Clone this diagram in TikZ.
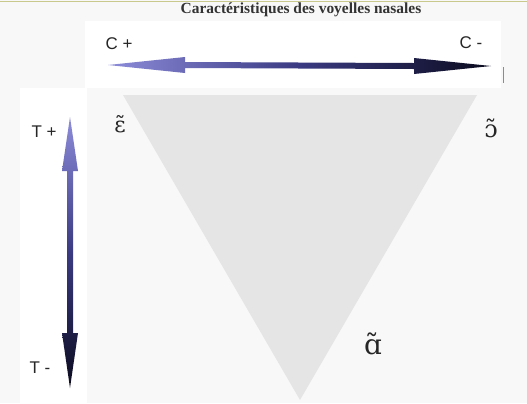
\documentclass[tikz,border=0pt]{standalone}
\usepackage{fontspec}
\setmainfont{Liberation Serif}
\newfontfamily\labelfont{Liberation Sans}
\newfontfamily\ipafont{DejaVu Serif}
\usetikzlibrary{calc}
\definecolor{PageGray}{HTML}{F8F8F8}
\definecolor{OliveLine}{HTML}{C9C98E}
\definecolor{TriGray}{HTML}{E5E5E5}
\definecolor{LightLav}{HTML}{8C8CDA}
\definecolor{MidNavy}{HTML}{3A3A82}
\definecolor{DarkNavy}{HTML}{0B0B1E}
\tikzset{
  title/.style={font=\fontsize{15.5}{17}\selectfont\bfseries, text=black!80, inner sep=0pt},
  axislabel/.style={font=\labelfont\fontsize{17}{19}\selectfont, text=black!85, inner sep=0pt},
  vowel/.style={font=\ipafont\fontsize{#1}{#1}\selectfont, text=black!85, inner sep=0pt},
  panel/.style={fill=white, draw=none}
}
\begin{document}
\begin{tikzpicture}[x=1bp, y=-1bp]
\useasboundingbox (0,0) rectangle (527,403);
\fill[PageGray] (0,0) rectangle (527,403);
\draw[OliveLine, line width=1.2bp] (0,1.5) -- (527,1.5);
% white panels
\fill[panel] (85,21) rectangle (501,88);
\fill[panel] (20,88) rectangle (87,403);
\draw[black!45, line width=0.8bp] (503,67) -- (503,83);
% triangle
\coordinate (triL) at (123,95);
\coordinate (triR) at (477,95);
\coordinate (triB) at (300,400);
\fill[TriGray] (triL) -- (triR) -- (triB) -- cycle;
% title
\node[title] (ttl) at (301,10) {Caractéristiques des voyelles nasales};
% horizontal axis
\node[axislabel] (cplus) at (119,44) {C +};
\node[axislabel] (cmoins) at (471,43) {C -};
\coordinate (hL) at (108,65);
\coordinate (hR) at (491,66);
\shade[left color=LightLav, right color=DarkNavy, middle color=MidNavy]
  (hL) -- ($(hL)+(77,-8)$) -- ($(hL)+(77,-3)$) -- ($(hR)+(-77,-3)$) -- ($(hR)+(-77,-8)$)
  -- (hR) -- ($(hR)+(-77,8)$) -- ($(hR)+(-77,3)$) -- ($(hL)+(77,3)$) -- ($(hL)+(77,8)$) -- cycle;
% vertical axis
\node[axislabel] (tplus) at (44,132) {T +};
\node[axislabel] (tmoins) at (40,368) {T -};
\coordinate (vT) at (70,117);
\coordinate (vB) at (70,388);
\shade[top color=LightLav, bottom color=DarkNavy, middle color=MidNavy]
  (vT) -- ($(vT)+(8,54)$) -- ($(vT)+(3,54)$) -- ($(vB)+(3,-55)$) -- ($(vB)+(8,-55)$)
  -- (vB) -- ($(vB)+(-8,-55)$) -- ($(vB)+(-3,-55)$) -- ($(vT)+(-3,54)$) -- ($(vT)+(-8,54)$) -- cycle;
% vowels
\node[vowel=22] (epsnas) at (120,124) {ɛ̃};
\node[vowel=24] (opennas) at (491,128) {ɔ̃};
\node[vowel=28] (anas) at (373,344) {ɑ̃};
\end{tikzpicture}
\end{document}
